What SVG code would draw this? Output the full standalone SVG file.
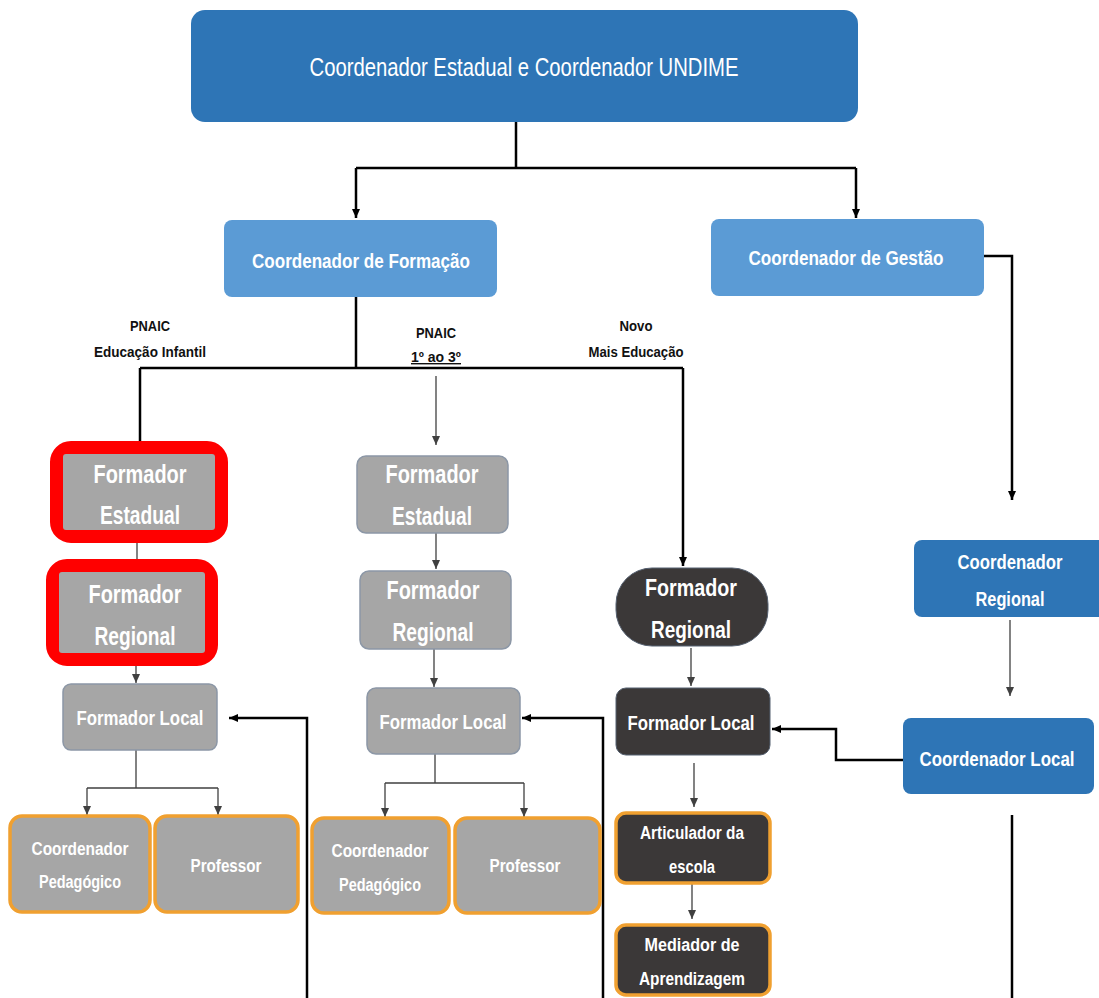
<svg xmlns="http://www.w3.org/2000/svg" width="1099" height="998" viewBox="0 0 1099 998">
<defs>
<marker id="ab" markerWidth="10" markerHeight="10" refX="9" refY="5" orient="auto" markerUnits="userSpaceOnUse"><path d="M0,1 L9,5 L0,9 Z" fill="#000"/></marker>
<marker id="ag" markerWidth="10" markerHeight="10" refX="9" refY="5" orient="auto" markerUnits="userSpaceOnUse"><path d="M0,1 L9,5 L0,9 Z" fill="#404040"/></marker>
<style>
.t{font-family:"Liberation Sans",Arial,sans-serif;fill:#fff;text-anchor:middle;font-weight:bold}
.tn{font-family:"Liberation Sans",Arial,sans-serif;fill:#fff;text-anchor:middle;font-weight:normal}
.lbl{font-family:"Liberation Sans",Arial,sans-serif;fill:#111;text-anchor:middle;font-weight:bold;font-size:14px}
.dk{fill:#5B9BD5}
.bl{fill:#2E75B6}
.gr{fill:#A6A6A6;stroke:#8C97A6;stroke-width:1.5}
.gi{fill:#A6A6A6}
.or{fill:#A6A6A6;stroke:#F0A030;stroke-width:3.5}
.dd{fill:#3B3838;stroke:#556070;stroke-width:1}
.do{fill:#3B3838;stroke:#F0A030;stroke-width:3.5}
.red{fill:none;stroke:#FF0000;stroke-width:14}
.k{fill:none;stroke:#000;stroke-width:2.5}
.g{fill:none;stroke:#404040;stroke-width:1.3}
</style>
</defs>
<rect width="1099" height="998" fill="#fff"/>

<g id="connectors">
<path class="k" d="M516,122 V168 M356,168 H856"/>
<path class="k" d="M356,168 V218" marker-end="url(#ab)"/>
<path class="k" d="M856,168 V218" marker-end="url(#ab)"/>
<path class="k" d="M984,256 H1012 V500" marker-end="url(#ab)"/>
<path class="g" d="M1010,620 V696" marker-end="url(#ag)"/>
<path class="k" d="M903,760 H836 V729 H772" marker-end="url(#ab)"/>
<path class="k" d="M1012,815 V998"/>
<path class="k" d="M356,297 V368 M140,368 H683 M140,368 V441"/>
<path class="g" d="M436,376 V445" marker-end="url(#ag)"/>
<path class="k" d="M683,368 V566" marker-end="url(#ab)"/>
<path class="g" d="M137,543 V560"/>
<path class="g" d="M136,666 V683" marker-end="url(#ag)"/>
<path class="g" d="M136,750 V788 H218 M87,788 H136 M87,788 V815" marker-end="url(#ag)"/>
<path class="g" d="M218,788 V815" marker-end="url(#ag)"/>
<path class="k" d="M307,998 V718 H229" marker-end="url(#ab)"/>
<path class="g" d="M436,533 V569" marker-end="url(#ag)"/>
<path class="g" d="M434,649 V687" marker-end="url(#ag)"/>
<path class="g" d="M435,754 V783 H524 M385,783 H435 M385,783 V817" marker-end="url(#ag)"/>
<path class="g" d="M524,783 V817" marker-end="url(#ag)"/>
<path class="k" d="M603,998 V718 H522" marker-end="url(#ab)"/>
<path class="g" d="M691,648 V686" marker-end="url(#ag)"/>
<path class="g" d="M694,763 V807" marker-end="url(#ag)"/>
<path class="g" d="M692,884 V919" marker-end="url(#ag)"/>
</g>

<g id="labels">
<text class="lbl" x="150" y="331" textLength="40" lengthAdjust="spacingAndGlyphs">PNAIC</text>
<text class="lbl" x="150" y="357" textLength="112" lengthAdjust="spacingAndGlyphs">Educação Infantil</text>
<text class="lbl" x="436" y="338" textLength="40" lengthAdjust="spacingAndGlyphs">PNAIC</text>
<text class="lbl" x="436" y="362" text-decoration="underline" textLength="50" lengthAdjust="spacingAndGlyphs">1º ao 3º</text>
<text class="lbl" x="636" y="331" textLength="33" lengthAdjust="spacingAndGlyphs">Novo</text>
<text class="lbl" x="636" y="357" textLength="95" lengthAdjust="spacingAndGlyphs">Mais Educação</text>
</g>

<g id="n-top">
<rect class="bl" x="191" y="10" width="667" height="112" rx="14"/>
<text class="tn" x="524" y="76" font-size="25" textLength="429" lengthAdjust="spacingAndGlyphs">Coordenador Estadual e Coordenador UNDIME</text>
</g>
<g id="n-formacao">
<rect class="dk" x="224" y="220" width="273" height="77" rx="8"/>
<text class="t" x="361" y="268" font-size="20" textLength="218" lengthAdjust="spacingAndGlyphs">Coordenador  de Formação</text>
</g>
<g id="n-gestao">
<rect class="dk" x="711" y="219" width="273" height="77" rx="8"/>
<text class="t" x="846" y="265" font-size="20" textLength="195" lengthAdjust="spacingAndGlyphs">Coordenador  de Gestão</text>
</g>
<g id="n-coord-regional">
<rect class="bl" x="914" y="540" width="195" height="77" rx="8"/>
<text class="t" x="1010" y="569" font-size="20" textLength="105" lengthAdjust="spacingAndGlyphs">Coordenador</text>
<text class="t" x="1010" y="606" font-size="20" textLength="69" lengthAdjust="spacingAndGlyphs">Regional</text>
</g>
<g id="n-coord-local">
<rect class="bl" x="903" y="718" width="191" height="76" rx="8"/>
<text class="t" x="997" y="766" font-size="20" textLength="155" lengthAdjust="spacingAndGlyphs">Coordenador  Local</text>
</g>

<g id="n-fe-infantil">
<rect class="red" x="57" y="448" width="164" height="88" rx="14"/>
<rect class="gi" x="63" y="454" width="152" height="76" rx="3"/>
<text class="t" x="140" y="483" font-size="25" textLength="93" lengthAdjust="spacingAndGlyphs">Formador</text>
<text class="t" x="140" y="524" font-size="25" textLength="80" lengthAdjust="spacingAndGlyphs">Estadual</text>
</g>
<g id="n-fr-infantil">
<rect class="red" x="53" y="566" width="158" height="93" rx="14"/>
<rect class="gi" x="59" y="572" width="146" height="81" rx="3"/>
<text class="t" x="135" y="603" font-size="25" textLength="93" lengthAdjust="spacingAndGlyphs">Formador</text>
<text class="t" x="135" y="645" font-size="25" textLength="81" lengthAdjust="spacingAndGlyphs">Regional</text>
</g>
<g id="n-fl-infantil">
<rect class="gr" x="63" y="684" width="154" height="66" rx="8"/>
<text class="t" x="140" y="725" font-size="20" textLength="127" lengthAdjust="spacingAndGlyphs">Formador  Local</text>
</g>
<g id="n-cp-infantil">
<rect class="or" x="10" y="816" width="140" height="96" rx="12"/>
<text class="t" x="80" y="855" font-size="18" textLength="97" lengthAdjust="spacingAndGlyphs">Coordenador</text>
<text class="t" x="80" y="888" font-size="18" textLength="82" lengthAdjust="spacingAndGlyphs">Pedagógico</text>
</g>
<g id="n-prof-infantil">
<rect class="or" x="155" y="816" width="143" height="96" rx="12"/>
<text class="t" x="226" y="872" font-size="18" textLength="71" lengthAdjust="spacingAndGlyphs">Professor</text>
</g>

<g id="n-fe-pnaic">
<rect class="gr" x="357" y="456" width="151" height="77" rx="9"/>
<text class="t" x="432" y="483" font-size="25" textLength="93" lengthAdjust="spacingAndGlyphs">Formador</text>
<text class="t" x="432" y="525" font-size="25" textLength="80" lengthAdjust="spacingAndGlyphs">Estadual</text>
</g>
<g id="n-fr-pnaic">
<rect class="gr" x="360" y="571" width="151" height="78" rx="9"/>
<text class="t" x="433" y="599" font-size="25" textLength="93" lengthAdjust="spacingAndGlyphs">Formador</text>
<text class="t" x="433" y="641" font-size="25" textLength="81" lengthAdjust="spacingAndGlyphs">Regional</text>
</g>
<g id="n-fl-pnaic">
<rect class="gr" x="367" y="688" width="153" height="66" rx="9"/>
<text class="t" x="443" y="729" font-size="20" textLength="127" lengthAdjust="spacingAndGlyphs">Formador  Local</text>
</g>
<g id="n-cp-pnaic">
<rect class="or" x="312" y="818" width="137" height="95" rx="12"/>
<text class="t" x="380" y="857" font-size="18" textLength="97" lengthAdjust="spacingAndGlyphs">Coordenador</text>
<text class="t" x="380" y="891" font-size="18" textLength="82" lengthAdjust="spacingAndGlyphs">Pedagógico</text>
</g>
<g id="n-prof-pnaic">
<rect class="or" x="455" y="818" width="145" height="95" rx="12"/>
<text class="t" x="525" y="872" font-size="18" textLength="71" lengthAdjust="spacingAndGlyphs">Professor</text>
</g>

<g id="n-fr-novo">
<rect class="dd" x="616" y="568" width="152" height="78" rx="36"/>
<text class="t" x="691" y="596" font-size="24" textLength="92" lengthAdjust="spacingAndGlyphs">Formador</text>
<text class="t" x="691" y="638" font-size="24" textLength="80" lengthAdjust="spacingAndGlyphs">Regional</text>
</g>
<g id="n-fl-novo">
<rect class="dd" x="616" y="688" width="154" height="67" rx="10"/>
<text class="t" x="691" y="730" font-size="20" textLength="127" lengthAdjust="spacingAndGlyphs">Formador  Local</text>
</g>
<g id="n-articulador">
<rect class="do" x="616" y="813" width="154" height="70" rx="10"/>
<text class="t" x="692" y="839" font-size="18" textLength="104" lengthAdjust="spacingAndGlyphs">Articulador da</text>
<text class="t" x="692" y="873" font-size="18" textLength="46" lengthAdjust="spacingAndGlyphs">escola</text>
</g>
<g id="n-mediador">
<rect class="do" x="616" y="925" width="154" height="70" rx="10"/>
<text class="t" x="692" y="951" font-size="18" textLength="95" lengthAdjust="spacingAndGlyphs">Mediador de</text>
<text class="t" x="692" y="985" font-size="18" textLength="106" lengthAdjust="spacingAndGlyphs">Aprendizagem</text>
</g>
</svg>
